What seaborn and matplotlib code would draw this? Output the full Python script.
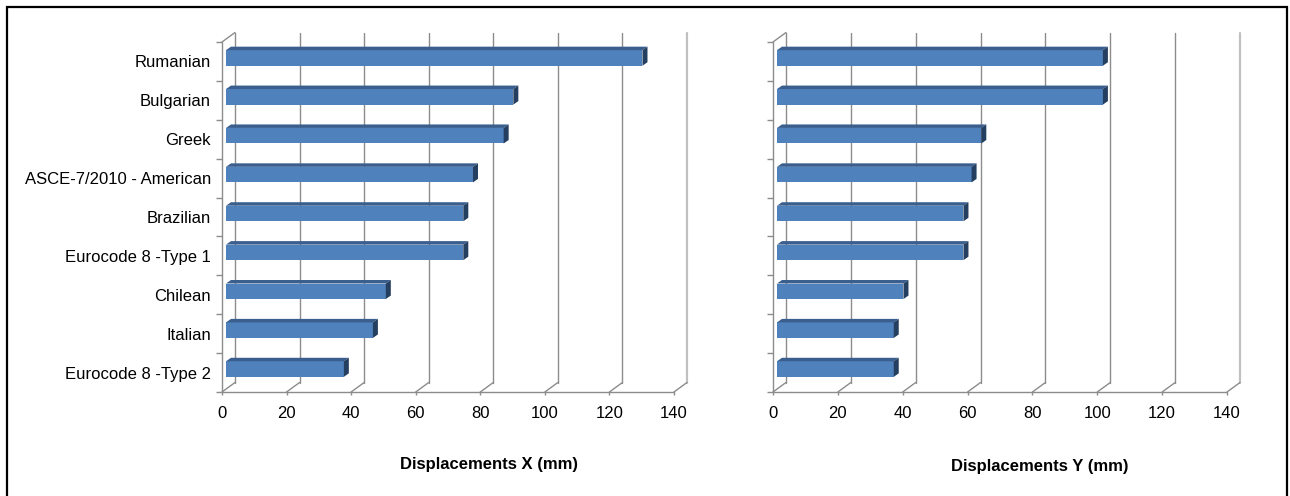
import matplotlib
matplotlib.use('Agg')
import matplotlib.pyplot as plt
from matplotlib.patches import Polygon, Rectangle
import seaborn as sns
import pandas as pd

# ---- data ----
codes = ['Rumanian', 'Bulgarian', 'Greek', 'ASCE-7/2010 - American', 'Brazilian',
         'Eurocode 8 -Type 1', 'Chilean', 'Italian', 'Eurocode 8 -Type 2']
disp_x = [129, 89, 86, 76.5, 73.5, 73.5, 49.5, 45.5, 36.5]
disp_y = [100.5, 100.5, 63, 60, 57.5, 57.5, 39, 36, 36]
x_ticks = [0, 20, 40, 60, 80, 100, 120, 140]

FRONT = '#4F81BD'
TOP = '#3A5F8E'
SIDE = '#243F60'
GRID = '#8C8C8C'

sns.set_style('white')
plt.rcParams['font.family'] = ['Liberation Sans', 'DejaVu Sans']
plt.rcParams['text.color'] = 'black'

W, H = 1290, 496
fig = plt.figure(figsize=(W / 100, H / 100), dpi=100)


def px_to_data(ax, dx, dy):
    # pixel offset -> data offset (dy positive = up on screen)
    p0 = ax.transData.transform((0, 0))
    return ax.transData.inverted().transform((p0[0] + dx, p0[1] + dy))


def draw_panel(left, right, values, show_labels, title, title_xy):
    ax = fig.add_axes([left / W, 1 - 392 / H, (right - left) / W, 350 / H])
    df = pd.DataFrame({'code': codes, 'disp': values})
    sns.barplot(data=df, x='disp', y='code', orient='h', color=FRONT,
                saturation=1, width=0.4, linewidth=0, ax=ax, zorder=3)
    ax.set_xlim(0, 140)
    ax.set_ylim(8.5, -0.5)
    for s in ax.spines.values():
        s.set_visible(False)
    ax.set_xlabel('')
    ax.set_ylabel('')

    # back wall offset, bar shift and bar depth (in pixels)
    bx, by = px_to_data(ax, 13, 9.5)
    sx, sy = px_to_data(ax, 4, 3.5)
    dx, dy = px_to_data(ax, 5, 3.5)

    # back wall gridlines + floor diagonals
    for t in x_ticks:
        last = t == x_ticks[-1]
        ax.plot([t + bx, t + bx], [8.5 + by, -0.5 + by], color='#C0C0C0' if last else GRID,
                lw=1.6 if last else 1, zorder=1, clip_on=False)
        ax.plot([t, t + bx], [8.5, 8.5 + by], color=GRID, lw=1, zorder=1, clip_on=False)
    # floor front edge, left wall
    ax.plot([0, 140], [8.5, 8.5], color=GRID, lw=1, zorder=1, clip_on=False)
    ax.plot([0, 0], [8.5, -0.5], color=GRID, lw=1, zorder=1, clip_on=False)
    ax.plot([0, bx], [-0.5, -0.5 + by], color=GRID, lw=1, zorder=1, clip_on=False)

    # pseudo 3D faces on the seaborn bars
    for p in list(ax.patches):
        p.set_x(p.get_x() + sx)
        p.set_y(p.get_y() + sy)
        x0 = p.get_x()
        x1 = x0 + p.get_width()
        y0 = p.get_y()
        y1 = y0 + p.get_height()
        ax.add_patch(Polygon([(x0, y0), (x0 + dx, y0 + dy), (x1 + dx, y0 + dy), (x1, y0)],
                             closed=True, fc=TOP, ec='none', zorder=3, clip_on=False))
        ax.add_patch(Polygon([(x1, y0), (x1 + dx, y0 + dy), (x1 + dx, y1 + dy), (x1, y1)],
                             closed=True, fc=SIDE, ec='none', zorder=3, clip_on=False))
        p.set_clip_on(False)

    ax.set_xticks(x_ticks)
    ax.set_xticklabels([str(t) for t in x_ticks])
    ax.tick_params(axis='x', length=2.5, width=1, color=GRID, pad=7.5, labelsize=12,
                   labelcolor='black', bottom=True)
    ax.set_yticks(range(len(codes)))
    ax.set_yticklabels(codes if show_labels else [''] * len(codes))
    ax.set_yticks([i - 0.5 for i in range(len(codes) + 1)], minor=True)
    ax.tick_params(axis='y', which='major', length=0, pad=8, labelsize=12, labelcolor='black')
    ax.tick_params(axis='y', which='minor', length=4.5, width=1, color=GRID, left=True)
    ax.grid(False)

    fig.text(title_xy[0] / W, 1 - title_xy[1] / H, title, ha='center', va='center',
             fontsize=12, fontweight='bold', color='black')
    return ax


draw_panel(222, 674, disp_x, True, 'Displacements X (mm)', (489, 464))
draw_panel(773, 1227, disp_y, False, 'Displacements Y (mm)', (1040, 466))

fig.add_artist(Rectangle((7 / W, -0.02), (1287 - 7) / W, 1 - 7 / H + 0.02,
                         transform=fig.transFigure, fill=False, ec='black', lw=1.6))

fig.savefig('out.png', dpi=100)
